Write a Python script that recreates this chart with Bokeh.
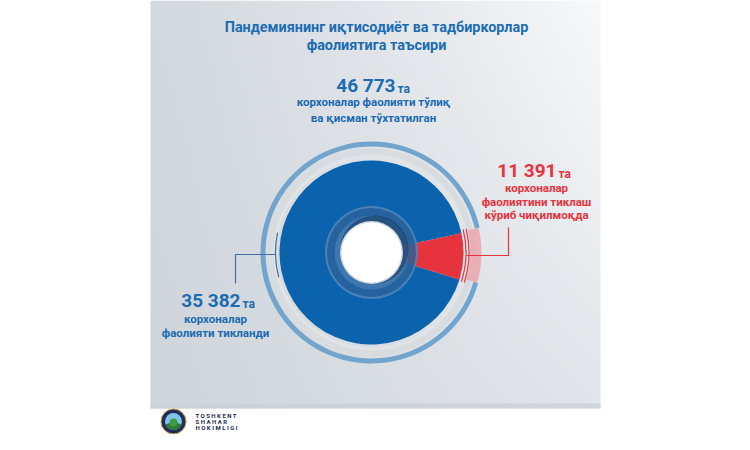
import numpy as np
from bokeh.plotting import figure
from bokeh.models import Range1d
from bokeh.core.properties import value
from bokeh.embed import file_html
from bokeh.resources import INLINE

# ---------------- data ----------------
title_lines = ["Пандемиянинг иқтисодиёт ва тадбиркорлар", "фаолиятига таъсири"]
total_value = 46773
total_caption = ["корхоналар фаолияти тўлиқ", "ва қисман тўхтатилган"]
restored_value = 35382
restored_caption = ["корхоналар", "фаолияти тикланди"]
pending_value = 11391
pending_caption = ["корхоналар", "фаолиятини тиклаш", "кўриб чиқилмоқда"]
unit = "та"
footer_lines = ["T O S H K E N T", "S H A H A R", "H O K I M L I G I"]

def fmt(v):
    return f"{v:,}".replace(",", " ")

# ---------------- style ----------------
FONT = value("Roboto")
BLUE_TXT = "#1b6cb3"
RED = "#e6333d"
DISK_BLUE = "#0b63ae"
W, H = 734, 434

def Y(s):  # screen y -> data y
    return 450 - s

p = figure(width=W, height=H, x_range=Range1d(0, W), y_range=Range1d(450 - H, 450),
           output_backend="svg", toolbar_location=None, min_border=0)
p.axis.visible = False
p.grid.visible = False
p.outline_line_color = None
p.background_fill_color = "white"
p.border_fill_color = "white"

# background panel gradient
nx, ny = 90, 82
xn = np.linspace(0, 1, nx)[None, :]
yn = np.linspace(0, 1, ny)[:, None]  # 0 = top
s = (1 - yn) * (0.12 + 0.88 * xn ** 1.3) + yn * (0.0 + 0.45 * xn)
c0 = np.array([0xcf, 0xd5, 0xdb]); c1 = np.array([0xf8, 0xf9, 0xfa])
img = np.zeros((ny, nx), dtype=np.uint32)
view = img.view(dtype=np.uint8).reshape((ny, nx, 4))
for k in range(3):
    view[:, :, k] = (c0[k] + (c1[k] - c0[k]) * s).astype(np.uint8)
view[:, :, 3] = 255
img = img[::-1]  # bottom row first
p.image_rgba(image=[img], x=150, y=Y(408), dw=450, dh=408)
p.quad(left=150, right=600, bottom=Y(408), top=Y(403), fill_color="#c9ced4", line_color=None, fill_alpha=0.7)

cx, cy = 371, Y(252)
deg = np.pi / 180
red_a0, red_a1 = -17, 12

# outer light-blue ring with gap at right
p.annular_wedge(x=cx, y=cy, inner_radius=106, outer_radius=111,
                start_angle=13 * deg, end_angle=(360 - 16) * deg,
                fill_color="#72a5cd", line_color=None)
# gray ring
p.annulus(x=cx, y=cy, inner_radius=95, outer_radius=104, fill_color="#e1e4e7", line_color=None)
p.annulus(x=cx, y=cy, inner_radius=98, outer_radius=104, fill_color="#d8dcdf", line_color=None)
# pink segment
p.annular_wedge(x=cx, y=cy, inner_radius=99, outer_radius=110,
                start_angle=-16 * deg, end_angle=13 * deg,
                fill_color="#e9a7ac", line_color=None, fill_alpha=0.85)
# thin red arcs
for r in (94.5, 97.5):
    p.arc(x=cx, y=cy, radius=r, start_angle=-18 * deg, end_angle=14 * deg,
          line_color=RED, line_width=1.2)
# thin blue arc on the left
p.arc(x=cx, y=cy, radius=96, start_angle=168 * deg, end_angle=195 * deg,
      line_color="#3e6ea8", line_width=1.2)

# main disk
p.wedge(x=cx, y=cy, radius=92, start_angle=red_a1 * deg, end_angle=(360 + red_a0) * deg,
        fill_color=DISK_BLUE, line_color=None)
p.wedge(x=cx, y=cy, radius=92, start_angle=red_a0 * deg, end_angle=red_a1 * deg,
        fill_color=RED, line_color=None)

# inner rings
p.annulus(x=cx, y=cy, inner_radius=31, outer_radius=46, fill_color="#2b619a", fill_alpha=0.85, line_color=None)
p.annulus(x=cx, y=cy, inner_radius=44.5, outer_radius=46.5, fill_color="#5b8fc2", fill_alpha=0.7, line_color=None)
p.annulus(x=cx, y=cy, inner_radius=31, outer_radius=37, fill_color="#4f86bb", fill_alpha=0.6, line_color=None)
p.circle(x=cx + 3, y=cy + 3, radius=34, fill_color="#0d2e52", fill_alpha=0.5, line_color=None)
p.circle(x=cx, y=cy, radius=31.5, fill_color="#cfd6dd", line_color=None)
p.circle(x=cx, y=cy, radius=30, fill_color="white", line_color=None)

# connectors
p.line(x=[466, 508, 508], y=[Y(255), Y(255), Y(227)], line_color=RED, line_width=1.2)
p.line(x=[275, 235, 235], y=[Y(254), Y(254), Y(283)], line_color="#3e6ea8", line_width=1.2)

# texts
p.text(x=[376, 376], y=[Y(27), Y(45)], text=title_lines, text_font=FONT, text_font_style="bold",
       text_font_size="14.4px", text_color=BLUE_TXT, text_align="center", text_baseline="middle")

def big_number(xr, mid, v, color, size="19px"):
    p.text(x=[xr], y=[Y(mid)], text=[fmt(v)], text_font=FONT, text_font_style="bold",
           text_font_size=size, text_color=color, text_align="right", text_baseline="middle")
    p.text(x=[xr + 2], y=[Y(mid + 3)], text=[unit], text_font=FONT, text_font_style="bold",
           text_font_size="12px", text_color=color, text_align="left", text_baseline="middle")

big_number(395, 85, total_value, BLUE_TXT)
p.text(x=[373, 373], y=[Y(101), Y(117)], text=total_caption, text_font=FONT, text_font_style="bold",
       text_font_size="11.5px", text_color=BLUE_TXT, text_align="center", text_baseline="middle")

big_number(556, 170, pending_value, RED)
p.text(x=[536, 536, 536], y=[Y(187), Y(201), Y(214)], text=pending_caption, text_font=FONT,
       text_font_style="bold", text_font_size="11.5px", text_color=RED, text_align="center",
       text_baseline="middle")

big_number(240, 300, restored_value, BLUE_TXT)
p.text(x=[215, 215], y=[Y(318), Y(332)], text=restored_caption, text_font=FONT, text_font_style="bold",
       text_font_size="11.5px", text_color=BLUE_TXT, text_align="center", text_baseline="middle")

# footer logo (compressed to fit the 434px figure)
lx, ly = 173, Y(421)
p.circle(x=lx, y=ly, radius=12.5, fill_color="#1f2d5c", line_color="#c9a23a", line_width=1)
p.circle(x=lx, y=ly, radius=8.5, fill_color="#7fc3e6", line_color=None)
p.wedge(x=lx, y=ly, radius=8.5, start_angle=200 * deg, end_angle=340 * deg, fill_color="#2f7a3a", line_color=None)
p.circle(x=lx, y=ly - 1, radius=4, fill_color="#3f9a45", line_color=None)
p.text(x=[195, 195, 195], y=[Y(415), Y(421), Y(427)], text=footer_lines, text_font=FONT,
       text_font_style="bold", text_font_size="6px", text_color="#232a4a", text_align="left",
       text_baseline="middle")

open("out.html", "w").write(file_html(p, INLINE))
